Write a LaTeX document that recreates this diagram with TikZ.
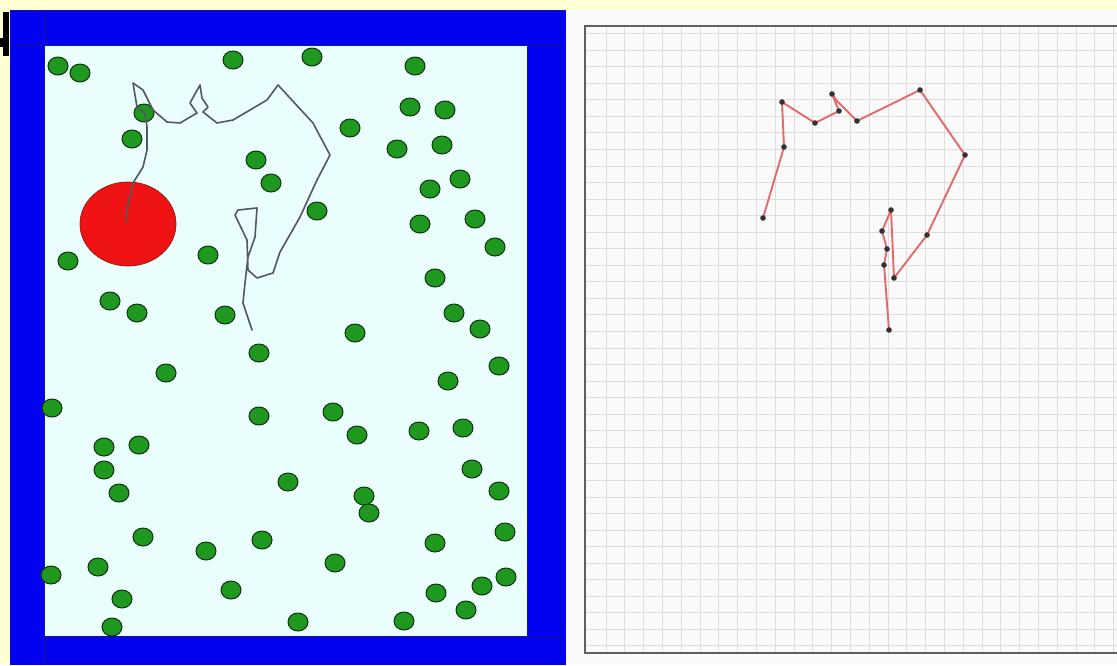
\documentclass[tikz,border=0pt]{standalone}
\definecolor{bgyellow}{RGB}{255,255,212}
\definecolor{wallblue}{RGB}{2,2,240}
\definecolor{walledge}{RGB}{20,20,150}
\definecolor{floorcyan}{RGB}{234,254,254}
\definecolor{dotgreen}{RGB}{30,152,30}
\definecolor{dotedge}{RGB}{12,50,12}
\definecolor{targetred}{RGB}{238,18,18}
\definecolor{targetedge}{RGB}{150,20,20}
\definecolor{trackgray}{RGB}{85,88,100}
\definecolor{pathred}{RGB}{228,105,105}
\definecolor{panelwhite}{RGB}{250,250,250}
\definecolor{gridgray}{RGB}{222,222,222}
\definecolor{framegray}{RGB}{95,95,95}
\tikzset{
  obstacle/.style={fill=dotgreen,draw=dotedge,line width=1.4pt},
  track/.style={draw=trackgray,line width=2.3pt,line join=round,line cap=round},
  route/.style={draw=pathred,line width=2.7pt,line join=round},
  vertexmark/.style={fill=black!80}
}
\begin{document}
\begin{tikzpicture}[x=0.05cm,y=0.05cm,yscale=-1]
\clip (0,0) rectangle (1117,665);
\useasboundingbox (0,0) rectangle (1117,665);
% background
\fill[bgyellow] (0,0) rectangle (1117,665);
% partial glyph at top left
\fill[black] (3,12) rectangle (9,56);
\fill[black] (0,38) rectangle (3,47);
% ---------------- left panel ----------------
\fill[wallblue] (10,10) rectangle (566,665);
\fill[floorcyan] (44,45) rectangle (527,636);
\draw[walledge,line width=0.8pt] (10,10) -- (566,10);
\draw[walledge,line width=0.8pt] (44,10) -- (44,665);
\draw[walledge,line width=0.8pt] (10,45) -- (566,45);
\draw[walledge,line width=0.8pt] (44,636) -- (566,636);
\draw[walledge,line width=0.8pt] (527,45) -- (527,636);
% obstacles
\foreach \px/\py in {
 58/66, 80/73, 233/60, 312/57, 415/66,
 144/113, 410/107, 445/110, 350/128,
 132/139, 397/149, 442/145,
 256/160, 271/183, 430/189, 460/179,
 317/211, 420/224, 475/219, 495/247,
 68/261, 208/255, 435/278,
 110/301, 137/313, 225/315, 454/313, 480/329, 355/333,
 259/353, 166/373, 499/366, 448/381,
 52/408, 259/416, 333/412, 357/435, 419/431, 463/428,
 104/447, 139/445, 104/470, 472/469,
 119/493, 288/482, 364/496, 369/513, 499/491,
 143/537, 206/551, 262/540, 335/563, 435/543, 505/532,
 51/575, 98/567, 122/599, 231/590, 482/586, 506/577, 436/593, 466/610,
 112/627, 298/622, 404/621}
 {\draw[obstacle] (\px,\py) ellipse [x radius=10,y radius=9];}
% target
\draw[fill=targetred,draw=targetedge,line width=1pt] (128,224) ellipse [x radius=48,y radius=42];
% robot track
\draw[track] (126,222) -- (127,210) -- (133,183) -- (143,167) -- (147,150) -- (147,127)
 -- (145,113) -- (137,107) -- (133,83) -- (143,90) -- (153,110) -- (167,122) -- (180,123)
 -- (197,113) -- (190,103) -- (200,85) -- (202,98) -- (208,107) -- (203,112) -- (217,123)
 -- (233,120) -- (267,100) -- (278,85) -- (313,123) -- (330,155) -- (317,180) -- (300,217)
 -- (280,252) -- (273,273) -- (257,278) -- (248,270) -- (247,240) -- (235,215) -- (238,210)
 -- (257,208) -- (255,237) -- (248,257) -- (245,283) -- (243,303) -- (252,330);
% ---------------- right panel ----------------
\fill[panelwhite] (566,10) rectangle (1117,665);
\begin{scope}
\clip (585,26) rectangle (1117,653);
\foreach \k in {0,...,27} {\draw[gridgray,line width=1pt] ({606+18.8*\k},26) -- ({606+18.8*\k},653);}
\foreach \k in {-1,...,36} {\draw[gridgray,line width=1pt] (585,{50+16.55*\k}) -- (1117,{50+16.55*\k});}
\end{scope}
\draw[framegray,line width=3.2pt] (1130,26) -- (585,26) -- (585,653) -- (1130,653);
% planned route
\draw[route] (763,218) -- (784,147) -- (782,102) -- (815,123) -- (839,111) -- (832,94)
 -- (837,101) -- (857,121) -- (920,90) -- (965,155) -- (927,235) -- (894,278) -- (891,210)
 -- (882,231) -- (887,249) -- (884,265) -- (889,330);
\foreach \px/\py in {763/218, 784/147, 782/102, 815/123, 839/111, 832/94, 857/121,
 920/90, 965/155, 927/235, 894/278, 891/210, 882/231, 887/249, 884/265, 889/330}
 {\fill[vertexmark] (\px,\py) circle [radius=2.8];}
\end{tikzpicture}
\end{document}
